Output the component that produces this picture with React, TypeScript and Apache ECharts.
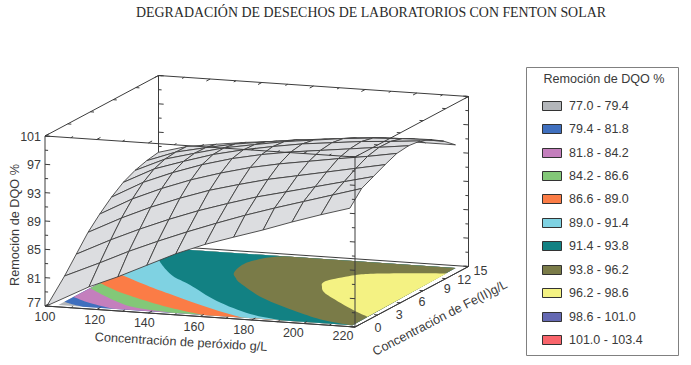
import React, { useEffect, useRef } from "react";
import * as echarts from "echarts";

const chartTitle = "DEGRADACIÓN DE DESECHOS DE LABORATORIOS CON FENTON SOLAR";
const zTitle = "Remoción de DQO %";
const xTitle = "Concentración de peróxido g/L";
const feTitle = "Concentración de Fe(II)g/L";

const peroxideTicks = [100, 120, 140, 160, 180, 200, 220];
const feTicks = [0, 3, 6, 9, 12, 15];
const zTicks = [77, 81, 85, 89, 93, 97, 101];

const legendLabels = ["77.0 - 79.4", "79.4 - 81.8", "81.8 - 84.2", "84.2 - 86.6", "86.6 - 89.0", "89.0 - 91.4", "91.4 - 93.8", "93.8 - 96.2", "96.2 - 98.6", "98.6 - 101.0", "101.0 - 103.4"];
const legendColors = ["#b3b6ba", "#3f6fbe", "#c47fbd", "#83c878", "#fb7c46", "#7fd2e2", "#128183", "#7a7b48", "#f4f283", "#6468b2", "#f9656b"];

// Surface: Fe values of its rows, peroxide values of its columns at both ends
const surfaceFe = [0.35, 1.9, 3.45, 5, 6.55, 8.1, 9.65, 11.2, 12.75, 14.3];
const surfaceNearX = [102, 116, 127.2, 138.4, 149.6, 160.9, 172, 183.4, 194.6, 205.8, 217];
const surfaceFarX = [102, 113, 124.5, 136, 148, 159.5, 171, 182.5, 194, 205.5, 217];
const surfaceTip = [100.5, 0.1, 77];
const zRow0 = [78.2, 79.9, 81.6, 83.5, 85.4, 87, 88.3, 89.6, 91, 92.3, 93.5];
const zRow1 = [80.2, 82.4, 84.3, 86, 87.6, 89.1, 90.5, 91.8, 93, 94.2, 95.4];
const zRow2 = [82.4, 84.75, 86.55, 88.2, 89.7, 91, 92.2, 93.2, 94.2, 95.2, 96.2];
const zRow3 = [84.6, 86.95, 88.75, 90.3, 91.7, 92.8, 93.8, 94.6, 95.4, 96.2, 97];
const zRow4 = [86.3, 88.75, 90.5, 92, 93.25, 94.3, 95.1, 95.75, 96.4, 97, 97.7];
const zRow5 = [87.8, 90.2, 91.85, 93.25, 94.4, 95.25, 95.9, 96.4, 96.9, 97.4, 97.9];
const zRow6 = [89, 91.2, 92.55, 93.8, 94.75, 95.5, 96.15, 96.6, 97.05, 97.35, 97.7];
const zRow7 = [89.8, 91.7, 92.8, 93.85, 94.6, 95.3, 95.8, 96.3, 96.65, 96.85, 97];
const zRow8 = [90.3, 91.8, 92.7, 93.5, 94.1, 94.65, 95.05, 95.5, 95.8, 95.9, 95.9];
const zRow9 = [90.6, 91.7, 92.3, 92.85, 93.3, 93.7, 94, 94.3, 94.5, 94.5, 94.5];
const surfaceZ = [zRow0, zRow1, zRow2, zRow3, zRow4, zRow5, zRow6, zRow7, zRow8, zRow9];

// Floor map in [peroxide, Fe]
const floorCorners = [[104, 0.4], [218, 0.35], [216.4, 14.5], [104, 14.5]];
const contour794 = [[104, 1.2], [108.7, 0.75], [113.4, 0.4]];
const contour818 = [[104, 2.4], [113.5, 1.33], [125, 0.4]];
const contour842 = [[104, 4.6], [112, 3.4], [122, 2.02], [132, 1], [148, 0.4]];
const contour866 = [[104, 5.9], [114, 4.5], [124.2, 3.36], [137, 2.1], [149, 1.13], [160, 0.4]];
const contour890 = [[104, 8.3], [106.4, 7.96], [123.6, 5.81], [136, 4.4], [148.6, 3], [162, 1.6], [175, 0.4]];
const contour914 = [[104, 13.5], [107.9, 12.24], [115, 10.5], [124.6, 8.5], [136.3, 6.78], [155.8, 3.66], [175.6, 1.3], [190, 0.4]];
const contour938 = [[150, 14.5], [145.5, 14], [141.7, 12.8], [141.5, 11.5], [143.8, 10], [147.5, 9], [152.2, 7.97], [169.7, 5], [190.2, 2.5], [204.5, 1.06], [216, 0.4]];
const contour962 = [[216.9, 13.2], [215.6, 13.1], [203.3, 12.6], [192, 12], [186.5, 11.4], [181.1, 10], [180.5, 9.2], [182.6, 8.4], [186, 7.4], [191.9, 6.3], [208.4, 3.71], [217.6, 2.46]];
const floorContours = [contour794, contour818, contour842, contour866, contour890, contour914, contour938, contour962];

const X0 = 100, X1 = 220, F1 = 15, Z0 = 77, Z1 = 101;
const INK = "#3c3c3c";
const TXT = "#3a3a3a";
const SANS = '"Liberation Sans", Arial, sans-serif';

const project = (x: number, fe: number, z: number) => {
  const a = (x - X0) / (X1 - X0), b = fe / F1, c = (z - Z0) / (Z1 - Z0);
  return [45 + 310 * a + 113.5 * b, 306 + 21 * a - 60.5 * b - 170 * c];
};

// Catmull-Rom rendering of a boundary, the same job as a line series' smooth option
const smoothPath = (pts: number[][]) => {
  const out: number[][] = [];
  for (let i = 0; i < pts.length - 1; i++) {
    const p0 = pts[Math.max(i - 1, 0)], p1 = pts[i], p2 = pts[i + 1], p3 = pts[Math.min(i + 2, pts.length - 1)];
    for (let s = 0; s < 8; s++) {
      const t = s / 8, t2 = t * t, t3 = t2 * t;
      out.push([0, 1].map((k) => 0.5 * (2 * p1[k] + (p2[k] - p0[k]) * t + (2 * p0[k] - 5 * p1[k] + 4 * p2[k] - p3[k]) * t2 + (3 * p1[k] - p0[k] - 3 * p2[k] + p3[k]) * t3)));
    }
  }
  out.push(pts[pts.length - 1]);
  return out;
};

const contourRegion = (c: number[][], i: number) => {
  const [, br, tr, tl] = floorCorners;
  const path = smoothPath(c);
  if (i === floorContours.length - 1) return path;
  if (i === floorContours.length - 2) return [...path, br, tr];
  return [...path, br, tr, tl];
};

type Seg = number[][];
const cornersZ = (z: number): number[][] => [[X0, 0, z], [X1, 0, z], [X1, F1, z], [X0, F1, z]];
const [b0, b1, b2, b3] = cornersZ(Z0);
const [t0, t1, t2, t3] = cornersZ(Z1);
const backEdges: Seg[] = [[b0, b3], [b3, b2], [b2, t2], [b3, t3], [t3, t2], [t0, t3]];
const frontEdges: Seg[] = [[b0, b1], [b1, b2], [t0, b0], [t0, t1], [t1, t2], [t1, b1]];

const tickSegs = (): { back: Seg[]; front: Seg[] } => {
  const back: Seg[] = [], front: Seg[] = [];
  for (let z = Z0; z <= Z1; z += 2) {
    const len = (z - Z0) % 4 === 0 ? 2 : 1.2;
    front.push([[X0, 0, z], [X0 + len, 0, z]]);
    front.push([[X1, 0, z], [X1 - len, 0, z]]);
    back.push([[X0, F1, z], [X0 + len, F1, z]]);
    back.push([[X1, F1, z], [X1 - len, F1, z]]);
  }
  for (let x = X0; x <= X1; x += 10) {
    const len = (x - X0) % 20 === 0 ? 0.5 : 0.3;
    front.push([[x, 0, Z0], [x, len, Z0]]);
    front.push([[x, 0, Z1], [x, len, Z1]]);
    back.push([[x, F1, Z1], [x, F1 - len, Z1]]);
  }
  for (const fe of feTicks) {
    front.push([[X1, fe, Z0], [X1 - 1.4, fe, Z0]]);
    front.push([[X1, fe, Z1], [X1 - 1.4, fe, Z1]]);
    back.push([[X0, fe, Z1], [X0 + 1.4, fe, Z1]]);
  }
  return { back, front };
};
const ticks = tickSegs();

const surfaceNode = (i: number, j: number) => {
  if (i === 0 && j === 0) return project(surfaceTip[0], surfaceTip[1], surfaceTip[2]);
  const f = i / (surfaceFe.length - 1);
  const x = surfaceNearX[j] + (surfaceFarX[j] - surfaceNearX[j]) * f;
  return project(x, surfaceFe[i], surfaceZ[i][j]);
};

const surfaceCells: number[][] = [];
for (let i = surfaceFe.length - 2; i >= 0; i--) {
  for (let j = 0; j < surfaceNearX.length - 1; j++) surfaceCells.push([i, j]);
}

const feLabelOffsets = [[23, 1], [21.5, 0], [21.5, -0.5], [24, -1.7], [18.5, 1.5], [12, 4.5]];

export default function App() {
  const ref = useRef<HTMLDivElement>(null);
  useEffect(() => {
    const chart = echarts.init(ref.current!, undefined, { renderer: "svg", width: 691, height: 365 });

    const lineSeries = (segs: Seg[], z: number, w: number) => ({
      type: "custom",
      coordinateSystem: "cartesian2d",
      z,
      silent: true,
      data: segs.map((_, i) => [i, 0]),
      renderItem: (p: any, api: any) => {
        const s = segs[p.dataIndex];
        const a = api.coord(project(s[0][0], s[0][1], s[0][2]));
        const b = api.coord(project(s[1][0], s[1][1], s[1][2]));
        return { type: "line", shape: { x1: a[0], y1: a[1], x2: b[0], y2: b[1] }, style: { stroke: INK, lineWidth: w, fill: "none" } };
      },
    });

    const textEl = (text: string, p: number[], align: string) => ({
      type: "text",
      x: p[0],
      y: p[1],
      style: { text, fontSize: 12.5, fontFamily: SANS, fill: TXT, textAlign: align, textVerticalAlign: "middle", align, verticalAlign: "middle" },
    });

    const option: any = {
      animation: false,
      backgroundColor: "#ffffff",
      grid: { left: 0, right: 0, top: 0, bottom: 0 },
      xAxis: { type: "value", min: 0, max: 691, show: false },
      yAxis: { type: "value", min: 0, max: 365, inverse: true, show: false },
      title: {
        text: chartTitle,
        left: 366,
        top: 0,
        textAlign: "center",
        textStyle: { fontFamily: '"Liberation Serif", "Times New Roman", serif', fontSize: 13.9, fontWeight: "normal", color: "#2a2a2a" },
      },
      series: [
        lineSeries(backEdges, 1, 1),
        lineSeries(ticks.back, 1, 1),
        {
          type: "custom",
          coordinateSystem: "cartesian2d",
          z: 2,
          silent: true,
          data: [[0, 0], ...floorContours.map((_, i) => [i + 1, 0])],
          renderItem: (p: any, api: any) => {
            const i = p.dataIndex;
            const region = i === 0 ? floorCorners : contourRegion(floorContours[i - 1], i - 1);
            const points = region.map((q) => api.coord(project(q[0], q[1], Z0)));
            return { type: "polygon", shape: { points }, style: { fill: legendColors[i], stroke: "none" } };
          },
        },
        lineSeries([[b0, b1], [b1, b2]], 3, 1),
        {
          type: "custom",
          coordinateSystem: "cartesian2d",
          z: 4,
          silent: true,
          data: surfaceCells,
          renderItem: (p: any, api: any) => {
            const [i, j] = surfaceCells[p.dataIndex];
            const points = [surfaceNode(i, j), surfaceNode(i, j + 1), surfaceNode(i + 1, j + 1), surfaceNode(i + 1, j)].map((q) => api.coord(q));
            return { type: "polygon", shape: { points }, style: { fill: "#dcdde0", stroke: "#3f3f3f", lineWidth: 0.9, lineJoin: "round" } };
          },
        },
        lineSeries(frontEdges, 5, 1),
        lineSeries(ticks.front, 5, 1),
        {
          type: "custom",
          coordinateSystem: "cartesian2d",
          z: 6,
          silent: true,
          data: [[0, 0]],
          renderItem: (_: any, api: any) => {
            const children: any[] = [];
            zTicks.forEach((z) => {
              const c = api.coord(project(X0, 0, z));
              children.push(textEl(String(z), [c[0] - 4, c[1] + (z === Z0 ? -2.7 : 1)], "right"));
            });
            peroxideTicks.forEach((x) => {
              const c = api.coord(project(x, 0, Z0));
              const a = (x - X0) / (X1 - X0);
              children.push(textEl(String(x), [c[0] - 12 * a, c[1] + 11 - 2 * a], "center"));
            });
            feTicks.forEach((fe, i) => {
              const c = api.coord(project(X1, fe, Z0));
              children.push(textEl(String(fe), [c[0] + feLabelOffsets[i][0], c[1] + feLabelOffsets[i][1]], "center"));
            });
            return { type: "group", children };
          },
        },
      ],
      graphic: [
        { type: "text", x: 15, y: 225, rotation: Math.PI / 2, style: { text: zTitle, font: `12.7px ${SANS}`, fill: TXT, textAlign: "center", textVerticalAlign: "middle" } },
        { type: "text", x: 181, y: 342, rotation: -0.058, style: { text: xTitle, font: `12.7px ${SANS}`, fill: TXT, textAlign: "center", textVerticalAlign: "middle" } },
        { type: "text", x: 440, y: 318, rotation: 0.478, style: { text: feTitle, font: `12.6px ${SANS}`, fill: TXT, textAlign: "center", textVerticalAlign: "middle" } },
        { type: "rect", shape: { x: 526.5, y: 67.5, width: 152, height: 288 }, style: { fill: "#ffffff", stroke: "#808080", lineWidth: 1 } },
        { type: "text", x: 604, y: 79, style: { text: zTitle, font: `12.6px ${SANS}`, fill: TXT, textAlign: "center", textVerticalAlign: "middle" } },
        ...legendLabels.flatMap((label, i) => {
          const y = 105.7 + i * 23.43;
          return [
            { type: "rect", shape: { x: 542.5, y: Math.round(y - 5) + 0.5, width: 19, height: 9 }, style: { fill: legendColors[i], stroke: "#333333", lineWidth: 1 } },
            { type: "text", x: 569, y, style: { text: label, font: `12.5px ${SANS}`, fill: TXT, textAlign: "left", textVerticalAlign: "middle" } },
          ];
        }),
      ],
    };
    chart.setOption(option);
    return () => chart.dispose();
  }, []);
  return <div ref={ref} style={{ position: "absolute", left: 0, top: 0, width: 691, height: 365 }} />;
}
